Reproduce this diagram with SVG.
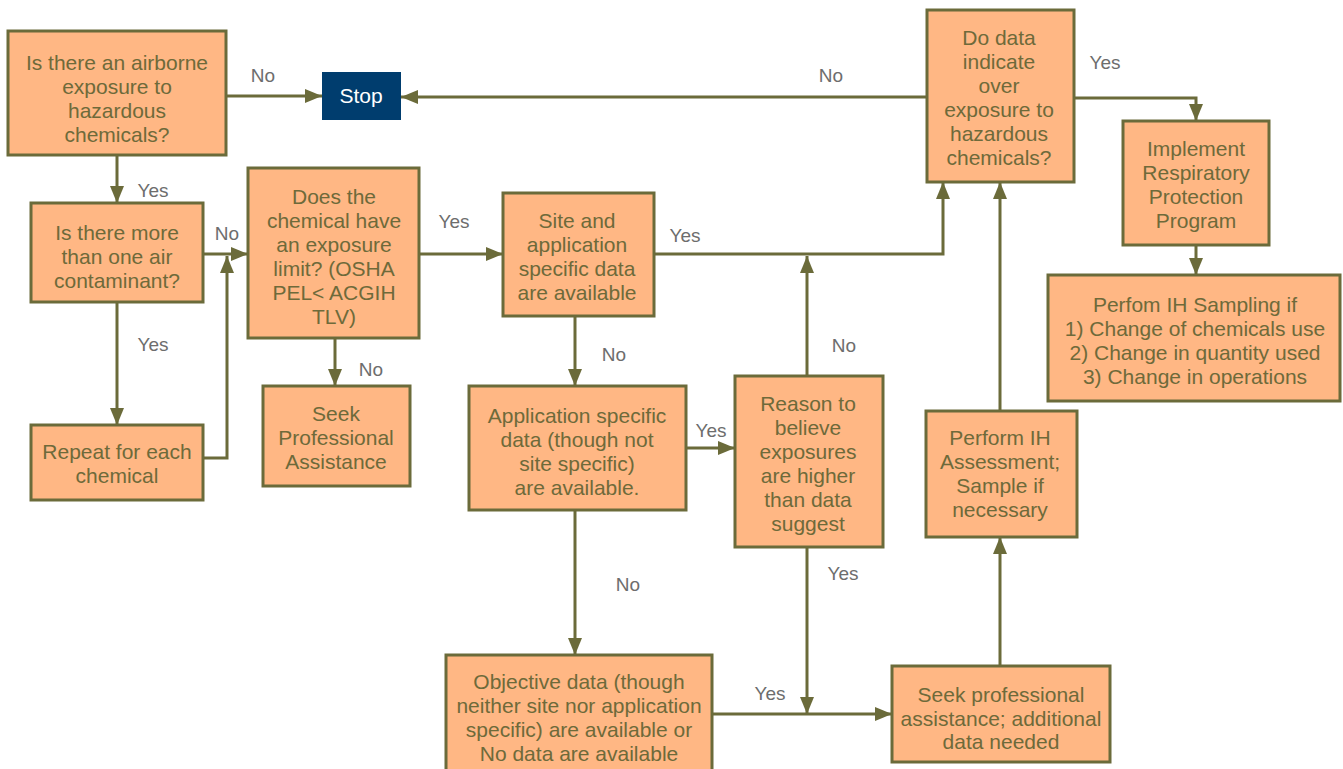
<svg xmlns="http://www.w3.org/2000/svg" width="1343" height="769" viewBox="0 0 1343 769">
<defs>
<marker id="ah" markerUnits="userSpaceOnUse" markerWidth="18" markerHeight="14" refX="17" refY="7" orient="auto">
<path d="M0,0 L17,7 L0,14 Z" fill="#6B6B3A"/>
</marker>
<style>
.box{fill:#FFB784;stroke:#6B6B3A;stroke-width:3}
.t{font-family:"Liberation Sans",Arial,sans-serif;font-size:21px;fill:#6E6A3A;text-anchor:middle}
.lbl{font-family:"Liberation Sans",Arial,sans-serif;font-size:19px;fill:#6D6D6D;text-anchor:middle}
.c{fill:none;stroke:#6B6B3A;stroke-width:3;marker-end:url(#ah)}
</style>
</defs>
<rect width="1343" height="769" fill="#FFFFFF"/>

<g id="connectors">
<path class="c" d="M226,96 H322"/>
<path class="c" d="M927,97 H401"/>
<path class="c" d="M117,155 V203"/>
<path class="c" d="M203,254 H248"/>
<path class="c" d="M203,458 H227 V256"/>
<path class="c" d="M117,302 V425"/>
<path class="c" d="M335,338 V386"/>
<path class="c" d="M416,254 H503"/>
<path class="c" d="M654,254 H943 V182"/>
<path class="c" d="M807,376 V256"/>
<path class="c" d="M575,316 V386"/>
<path class="c" d="M686,448 H735"/>
<path class="c" d="M575,510 V655"/>
<path class="c" d="M713,714 H892"/>
<path class="c" d="M807,547 V714"/>
<path class="c" d="M1000,666 V537"/>
<path class="c" d="M1000,411 V182"/>
<path class="c" d="M1074,98 H1196 V121"/>
<path class="c" d="M1196,245 V275"/>
<text class="lbl" x="263" y="82">No</text>
<text class="lbl" x="831" y="82">No</text>
<text class="lbl" x="1105" y="69">Yes</text>
<text class="lbl" x="153" y="197">Yes</text>
<text class="lbl" x="227" y="240">No</text>
<text class="lbl" x="454" y="228">Yes</text>
<text class="lbl" x="685" y="242">Yes</text>
<text class="lbl" x="153" y="351">Yes</text>
<text class="lbl" x="371" y="376">No</text>
<text class="lbl" x="614" y="361">No</text>
<text class="lbl" x="844" y="352">No</text>
<text class="lbl" x="711" y="437">Yes</text>
<text class="lbl" x="628" y="591">No</text>
<text class="lbl" x="843" y="580">Yes</text>
<text class="lbl" x="770" y="700">Yes</text>
</g>

<g id="n-airborne">
<rect class="box" x="8" y="31" width="218" height="124"/>
<text class="t" x="117" y="70">Is there an airborne</text>
<text class="t" x="117" y="94">exposure to</text>
<text class="t" x="117" y="118">hazardous</text>
<text class="t" x="117" y="142">chemicals?</text>
</g>

<g id="n-stop">
<rect x="322" y="72" width="79" height="48" fill="#003D6E"/>
<text class="t" x="361" y="103" style="fill:#FFFFFF">Stop</text>
</g>

<g id="n-more">
<rect class="box" x="31" y="203" width="172" height="99"/>
<text class="t" x="117" y="240">Is there more</text>
<text class="t" x="117" y="264">than one air</text>
<text class="t" x="117" y="288">contaminant?</text>
</g>

<g id="n-limit">
<rect class="box" x="248" y="168" width="171" height="170"/>
<text class="t" x="334" y="204">Does the</text>
<text class="t" x="334" y="228">chemical have</text>
<text class="t" x="334" y="252">an exposure</text>
<text class="t" x="334" y="276">limit? (OSHA</text>
<text class="t" x="334" y="300">PEL&lt; ACGIH</text>
<text class="t" x="334" y="324">TLV)</text>
</g>

<g id="n-repeat">
<rect class="box" x="31" y="425" width="172" height="75"/>
<text class="t" x="117" y="459">Repeat for each</text>
<text class="t" x="117" y="483">chemical</text>
</g>

<g id="n-seek1">
<rect class="box" x="263" y="386" width="147" height="100"/>
<text class="t" x="336" y="421">Seek</text>
<text class="t" x="336" y="445">Professional</text>
<text class="t" x="336" y="469">Assistance</text>
</g>

<g id="n-site">
<rect class="box" x="503" y="193" width="151" height="123"/>
<text class="t" x="577" y="228">Site and</text>
<text class="t" x="577" y="252">application</text>
<text class="t" x="577" y="276">specific data</text>
<text class="t" x="577" y="300">are available</text>
</g>

<g id="n-app">
<rect class="box" x="469" y="386" width="217" height="124"/>
<text class="t" x="577" y="423">Application specific</text>
<text class="t" x="577" y="447">data (though not</text>
<text class="t" x="577" y="471">site specific)</text>
<text class="t" x="577" y="495">are available.</text>
</g>

<g id="n-reason">
<rect class="box" x="735" y="376" width="148" height="171"/>
<text class="t" x="808" y="411">Reason to</text>
<text class="t" x="808" y="435">believe</text>
<text class="t" x="808" y="459">exposures</text>
<text class="t" x="808" y="483">are higher</text>
<text class="t" x="808" y="507">than data</text>
<text class="t" x="808" y="531">suggest</text>
</g>

<g id="n-dodata">
<rect class="box" x="927" y="10" width="147" height="172"/>
<text class="t" x="999" y="45">Do data</text>
<text class="t" x="999" y="69">indicate</text>
<text class="t" x="999" y="93">over</text>
<text class="t" x="999" y="117">exposure to</text>
<text class="t" x="999" y="141">hazardous</text>
<text class="t" x="999" y="165">chemicals?</text>
</g>

<g id="n-implement">
<rect class="box" x="1123" y="121" width="146" height="124"/>
<text class="t" x="1196" y="156">Implement</text>
<text class="t" x="1196" y="180">Respiratory</text>
<text class="t" x="1196" y="204">Protection</text>
<text class="t" x="1196" y="228">Program</text>
</g>

<g id="n-sampling">
<rect class="box" x="1048" y="275" width="292" height="126"/>
<text class="t" x="1195" y="312">Perfom IH Sampling if</text>
<text class="t" x="1195" y="336">1) Change of chemicals use</text>
<text class="t" x="1195" y="360">2) Change in quantity used</text>
<text class="t" x="1195" y="384">3) Change in operations</text>
</g>

<g id="n-assess">
<rect class="box" x="926" y="411" width="151" height="126"/>
<text class="t" x="1000" y="445">Perform IH</text>
<text class="t" x="1000" y="469">Assessment;</text>
<text class="t" x="1000" y="493">Sample if</text>
<text class="t" x="1000" y="517">necessary</text>
</g>

<g id="n-objective">
<rect class="box" x="446" y="655" width="266" height="117"/>
<text class="t" x="579" y="689">Objective data (though</text>
<text class="t" x="579" y="713">neither site nor application</text>
<text class="t" x="579" y="737">specific) are available or</text>
<text class="t" x="579" y="761">No data are available</text>
</g>

<g id="n-seek2">
<rect class="box" x="892" y="666" width="218" height="96"/>
<text class="t" x="1001" y="702">Seek professional</text>
<text class="t" x="1001" y="726">assistance; additional</text>
<text class="t" x="1001" y="749">data needed</text>
</g>
</svg>
